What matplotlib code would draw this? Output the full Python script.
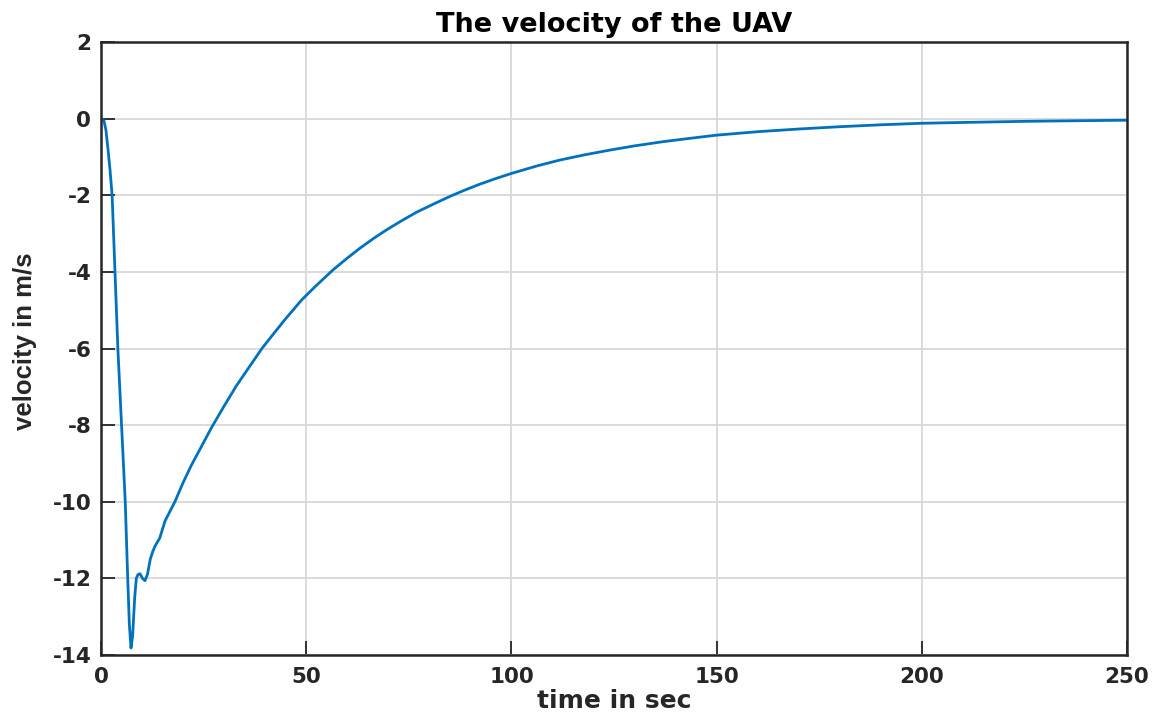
import matplotlib
matplotlib.use("Agg")
import matplotlib.pyplot as plt

# Sampled velocity response of the UAV (time in s, velocity in m/s)
time_s = [0.0, 0.7, 1.2, 1.7, 2.2, 2.7, 3.4, 4.1, 5.0, 5.9, 6.5, 6.9, 7.3,
          7.7, 8.2, 8.6, 9.0, 9.5, 10.1, 10.7, 11.3, 12.0, 12.6, 13.2, 14.3,
          15.6, 16.8, 18.0, 20.0, 22.0, 24.5, 27.0, 30.0, 33.0, 36.0, 39.2,
          42.0, 45.0, 48.9, 52.5, 56.6, 60.0, 63.1, 66.5, 69.6, 73.0, 76.9,
          81.0, 85.0, 88.5, 92.3, 96.0, 100.0, 106.0, 111.8, 118.0, 124.0,
          130.0, 137.0, 143.0, 150.0, 160.0, 170.0, 180.0, 190.0, 200.0,
          212.0, 225.0, 237.0, 250.0]
velocity = [0.0, -0.05, -0.3, -0.8, -1.35, -2.0, -4.0, -6.0, -8.0, -10.0,
            -12.0, -13.2, -13.82, -13.5, -12.5, -12.0, -11.9, -11.88, -12.0,
            -12.06, -11.9, -11.5, -11.3, -11.15, -10.95, -10.5, -10.25, -10.0,
            -9.5, -9.05, -8.55, -8.05, -7.5, -6.97, -6.5, -6.0, -5.62, -5.22,
            -4.73, -4.35, -3.94, -3.64, -3.38, -3.12, -2.90, -2.68, -2.44,
            -2.23, -2.03, -1.87, -1.71, -1.57, -1.43, -1.24, -1.08, -0.94,
            -0.82, -0.71, -0.60, -0.52, -0.43, -0.34, -0.27, -0.21, -0.16,
            -0.12, -0.095, -0.07, -0.055, -0.04]

x_ticks = [0, 50, 100, 150, 200, 250]
y_ticks = [-14, -12, -10, -8, -6, -4, -2, 0, 2]

plt.rcParams['font.family'] = ['DejaVu Sans']
plt.rcParams['axes.unicode_minus'] = False

fig = plt.figure(figsize=(11.6, 7.25), dpi=100)
ax = fig.add_axes([0.0871, 0.0966, 0.9716 - 0.0871, 0.942 - 0.0966])

ax.plot(time_s, velocity, color='#0072BD', linewidth=2.0,
        solid_joinstyle='round', solid_capstyle='round')

ax.set_xlim(0, 250)
ax.set_ylim(-14, 2)
ax.set_xticks(x_ticks)
ax.set_yticks(y_ticks)
ax.grid(True, color='#d8d8d8', linewidth=1.3)
ax.set_axisbelow(True)

for side in ax.spines.values():
    side.set_color('#262626')
    side.set_linewidth(1.8)

ax.tick_params(direction='in', length=10, width=1.3, color='#262626',
               labelsize=15.5, labelcolor='#262626',
               top=False, right=False)
ax.tick_params(axis='x', pad=9)
ax.tick_params(axis='y', pad=7)
for lbl in ax.get_xticklabels() + ax.get_yticklabels():
    lbl.set_fontweight('bold')

ax.set_title('The velocity of the UAV', fontsize=19.5, fontweight='bold',
             color='black', pad=7)
ax.set_xlabel('time in sec', fontsize=18, fontweight='bold', color='#262626',
              labelpad=1)
ax.set_ylabel('velocity in m/s', fontsize=18.5, fontweight='bold',
              color='#262626', family=['Liberation Sans', 'DejaVu Sans'])
ax.yaxis.set_label_coords(-0.0624, 0.512)

fig.savefig('out.png', dpi=100, facecolor='white')
